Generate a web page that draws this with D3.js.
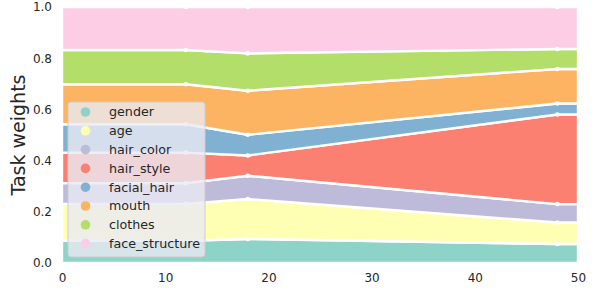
<!DOCTYPE html>
<html>
<head>
<meta charset="utf-8">
<script src="https://cdn.jsdelivr.net/npm/d3@7"></script>
<style>
  html, body { margin: 0; padding: 0; background: #fff; }
  svg { display: block; font-family: "DejaVu Sans", sans-serif; }
</style>
</head>
<body>
<svg id="chart" width="598" height="296"></svg>
<script>
// ---- data ----
const steps = [0, 12, 18, 48, 50];
const tasks = ["gender", "age", "hair_color", "hair_style", "facial_hair", "mouth", "clothes", "face_structure"];
const gender        = [0.087, 0.087, 0.094, 0.074, 0.074];
const age           = [0.144, 0.144, 0.156, 0.084, 0.084];
const hair_color    = [0.081, 0.081, 0.091, 0.072, 0.072];
const hair_style    = [0.119, 0.119, 0.079, 0.350, 0.350];
const facial_hair   = [0.111, 0.111, 0.081, 0.043, 0.043];
const mouth         = [0.156, 0.156, 0.172, 0.135, 0.135];
const clothes       = [0.134, 0.134, 0.146, 0.078, 0.078];
const face_structure= [0.168, 0.168, 0.181, 0.164, 0.164];
const xTicks = [0, 10, 20, 30, 40, 50];
const yTicks = [0.0, 0.2, 0.4, 0.6, 0.8, 1.0];
const colors = ["#8dd3c7", "#ffffb3", "#bebada", "#fb8072", "#80b1d3", "#fdb462", "#b3de69", "#fccde5"];

const series = { gender, age, hair_color, hair_style, facial_hair, mouth, clothes, face_structure };
const table = steps.map((s, i) => {
  const row = { step: s };
  tasks.forEach(t => row[t] = series[t][i]);
  return row;
});

// ---- layout ----
const svg = d3.select("#chart");
const m = { left: 62, right: 20, top: 7, bottom: 33 };
const W = 598, H = 296;
const x = d3.scaleLinear().domain([0, 50]).range([m.left, W - m.right]);
const y = d3.scaleLinear().domain([0, 1]).range([H - m.bottom, m.top]);

const stack = d3.stack().keys(tasks);
const layers = stack(table);

svg.append("defs").append("clipPath").attr("id", "clip")
  .append("rect").attr("x", x(0)).attr("y", y(1)).attr("width", x(50) - x(0)).attr("height", y(0) - y(1));

const area = d3.area()
  .x(d => x(d.data.step))
  .y0(d => y(d[0]))
  .y1(d => y(d[1]));

const g = svg.append("g").attr("clip-path", "url(#clip)");
g.selectAll("path.layer").data(layers).join("path")
  .attr("class", "layer")
  .attr("d", area)
  .attr("fill", (d, i) => colors[i])
  .attr("stroke", "#fff")
  .attr("stroke-width", 2.4)
  .attr("stroke-linejoin", "round");

// markers at interior points
const pts = [];
layers.forEach(L => L.forEach(d => {
  if (d.data.step !== 0 && d.data.step !== 50) pts.push(d);
}));
g.selectAll("circle.pt").data(pts).join("circle")
  .attr("class", "pt")
  .attr("cx", d => x(d.data.step))
  .attr("cy", d => y(d[1]))
  .attr("r", 2.3)
  .attr("fill", "#fff");

// ---- axes ----
const xAxis = svg.append("g").attr("transform", `translate(0,${y(0)})`)
  .call(d3.axisBottom(x).tickValues(xTicks).tickSize(0).tickPadding(10).tickFormat(d3.format("d")));
const yAxis = svg.append("g").attr("transform", `translate(${x(0)},0)`)
  .call(d3.axisLeft(y).tickValues(yTicks).tickSize(0).tickPadding(10).tickFormat(d3.format(".1f")));
[xAxis, yAxis].forEach(a => {
  a.select(".domain").remove();
  a.selectAll("text").attr("font-size", 12).attr("fill", "#262626").attr("font-family", "DejaVu Sans");
});

svg.append("text")
  .attr("transform", `translate(25,${(y(0) + y(1)) / 2}) rotate(-90)`)
  .attr("text-anchor", "middle")
  .attr("font-size", 19)
  .attr("fill", "#262626")
  .text("Task weights");

// ---- legend ----
const lg = svg.append("g").attr("transform", "translate(68,102)");
lg.append("rect")
  .attr("width", 137).attr("height", 155).attr("rx", 3)
  .attr("fill", "#eaeaf2").attr("fill-opacity", 0.8)
  .attr("stroke", "#cccccc").attr("stroke-width", 1);
const items = lg.selectAll("g.item").data(tasks).join("g")
  .attr("class", "item")
  .attr("transform", (d, i) => `translate(0,${10 + i * 18.8})`);
items.append("circle").attr("cx", 17.5).attr("cy", 0).attr("r", 4.8)
  .attr("fill", (d, i) => colors[i]);
items.append("text").attr("x", 41).attr("y", 0).attr("dy", "0.35em")
  .attr("font-size", 12.7).attr("fill", "#262626").text(d => d);
</script>
</body>
</html>
